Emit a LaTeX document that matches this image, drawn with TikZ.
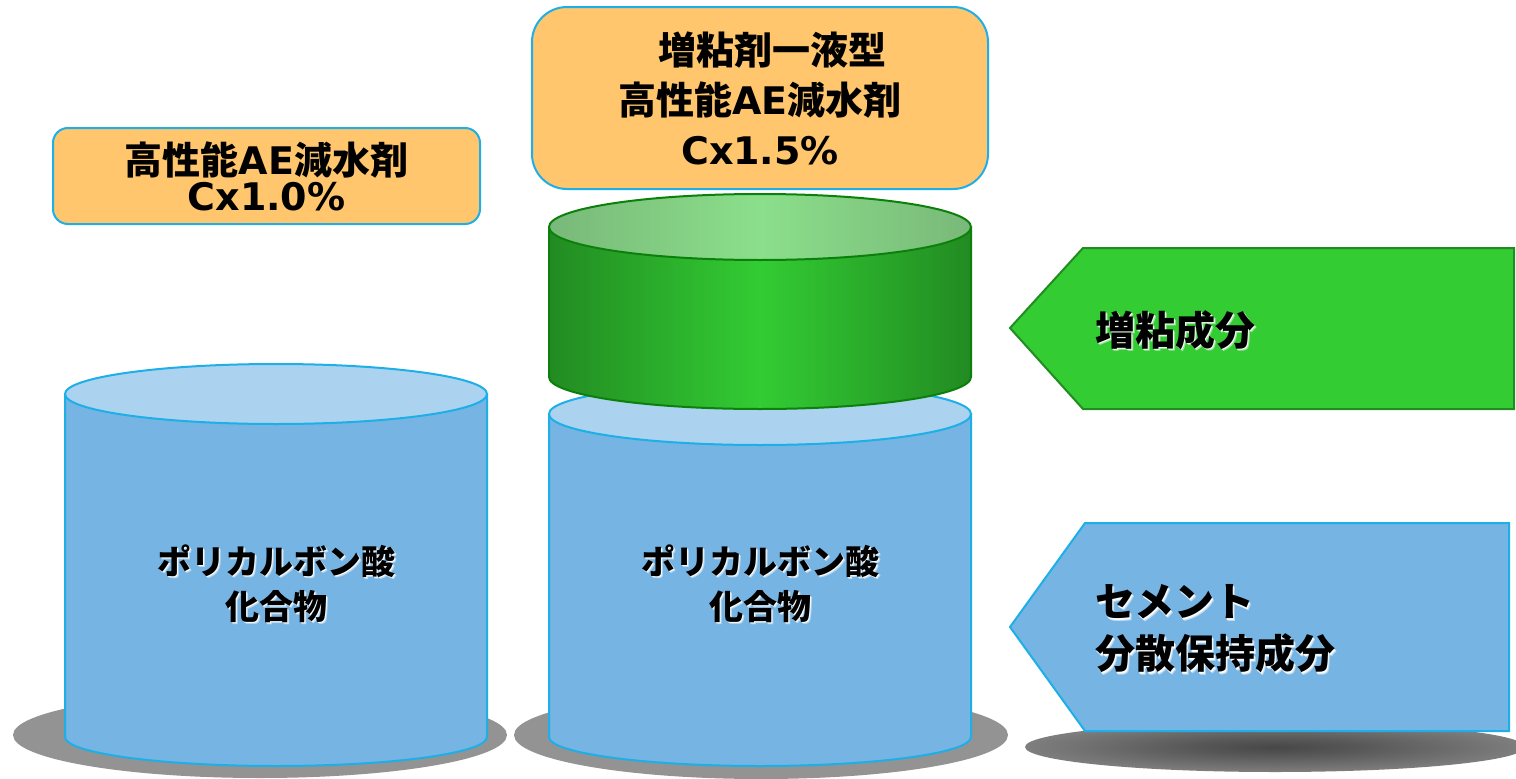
\documentclass[tikz,border=0pt]{standalone}
\usepackage{fontspec}
\setmainfont{Noto Sans CJK JP}
\newfontfamily\latin{DejaVu Sans}
\usepackage{tikz}

\definecolor{blueside}{HTML}{75B4E3}
\definecolor{bluetop}{HTML}{ABD3F0}
\definecolor{blueline}{HTML}{1DAFE6}
\definecolor{greendark}{HTML}{228B22}
\definecolor{greenmid}{HTML}{33CC33}
\definecolor{greentopdark}{HTML}{79B879}
\definecolor{greentoplight}{HTML}{8BDF8B}
\definecolor{greenline}{HTML}{0B800B}
\definecolor{boxfill}{HTML}{FFC66E}
\definecolor{shadowgray}{HTML}{939393}

\pgfdeclareradialshading{floorglow}{\pgfpoint{0bp}{0bp}}{%
  color(0bp)=(black!72); color(8bp)=(black!66); color(30bp)=(black!46);
  color(48bp)=(black!40); color(50bp)=(black!40)}

\tikzset{
  outline/.style={line width=2pt},
  infobox/.style={draw=blueline, fill=boxfill, outline, inner sep=0pt,
    align=center, font=\bfseries\fontsize{38}{36}\selectfont},
  cyllabel/.style={align=center, inner sep=0pt, font=\bfseries\fontsize{34}{45}\selectfont},
  arrowlabel/.style={align=left, anchor=west, inner sep=0pt, font=\bfseries\fontsize{40}{52}\selectfont}
}

% label with a soft white glow under it
\newcommand{\glowlabel}[4]{%
  \node[#1, text=white, opacity=.5] at ([shift={(2.2,2.2)}]#3) {#4};
  \node[#1, text=white, opacity=.9] at ([shift={(1.2,1.2)}]#3) {#4};
  \node[#1] (#2) at (#3) {#4};}

\begin{document}
\begin{tikzpicture}[x=1pt,y=-1pt]
\useasboundingbox (0,0) rectangle (1516,779);
\fill[white] (0,0) rectangle (1516,779);

% floor shadows
\fill[shadowgray] (260,735) ellipse [x radius=247, y radius=43];
\fill[shadowgray] (761,735) ellipse [x radius=247, y radius=44];
\shade[shading=floorglow] (1275,747) ellipse [x radius=250, y radius=25];

% left cylinder
\filldraw[fill=blueside, draw=blueline, outline] (65,394) -- (65,737)
  arc[start angle=180, end angle=0, x radius=211, y radius=29] -- (487,394) -- cycle;
\filldraw[fill=bluetop, draw=blueline, outline] (276,394) ellipse [x radius=211, y radius=30];

% middle cylinder, blue part
\filldraw[fill=blueside, draw=blueline, outline] (549,414) -- (549,737)
  arc[start angle=180, end angle=0, x radius=211, y radius=29] -- (971,414) -- cycle;
\filldraw[fill=bluetop, draw=blueline, outline] (760,414) ellipse [x radius=211, y radius=31];

% middle cylinder, green part
\shadedraw[left color=greendark, right color=greendark, middle color=greenmid, draw=greenline, outline]
  (549,227) -- (549,377) arc[start angle=180, end angle=0, x radius=211, y radius=32] -- (971,227) -- cycle;
\shadedraw[left color=greentopdark, right color=greentopdark, middle color=greentoplight, draw=greenline, outline]
  (760,227) ellipse [x radius=211, y radius=33];

% dosage boxes
\node[infobox, minimum width=427pt, minimum height=96pt, rounded corners=15pt] (boxL) at (266.5,176)
  {高性能{\latin AE}減水剤\\{\latin Cx1.0\%}};
\node[infobox, minimum width=456pt, minimum height=182pt, rounded corners=35pt,
  font=\bfseries\fontsize{38}{50}\selectfont] (boxR) at (760,98)
  {\hspace*{24pt}増粘剤一液型\\高性能{\latin AE}減水剤\\{\latin Cx1.5\%}};

% pointers on the right
\filldraw[fill=greenmid, draw=greendark, outline] (1010,328) -- (1083,248) -- (1514,248)
  -- (1514,409) -- (1083,409) -- cycle;
\filldraw[fill=blueside, draw=blueline, outline] (1010,627) -- (1085,523) -- (1509,523)
  -- (1509,731) -- (1085,731) -- cycle;

% labels
\glowlabel{cyllabel}{labL}{276,584}{ポリカルボン酸\\化合物}
\glowlabel{cyllabel}{labM}{760,584}{ポリカルボン酸\\化合物}
\glowlabel{arrowlabel}{labG}{1095,330}{増粘成分}
\glowlabel{arrowlabel}{labB}{1095,629}{セメント\\分散保持成分}
\end{tikzpicture}
\end{document}
